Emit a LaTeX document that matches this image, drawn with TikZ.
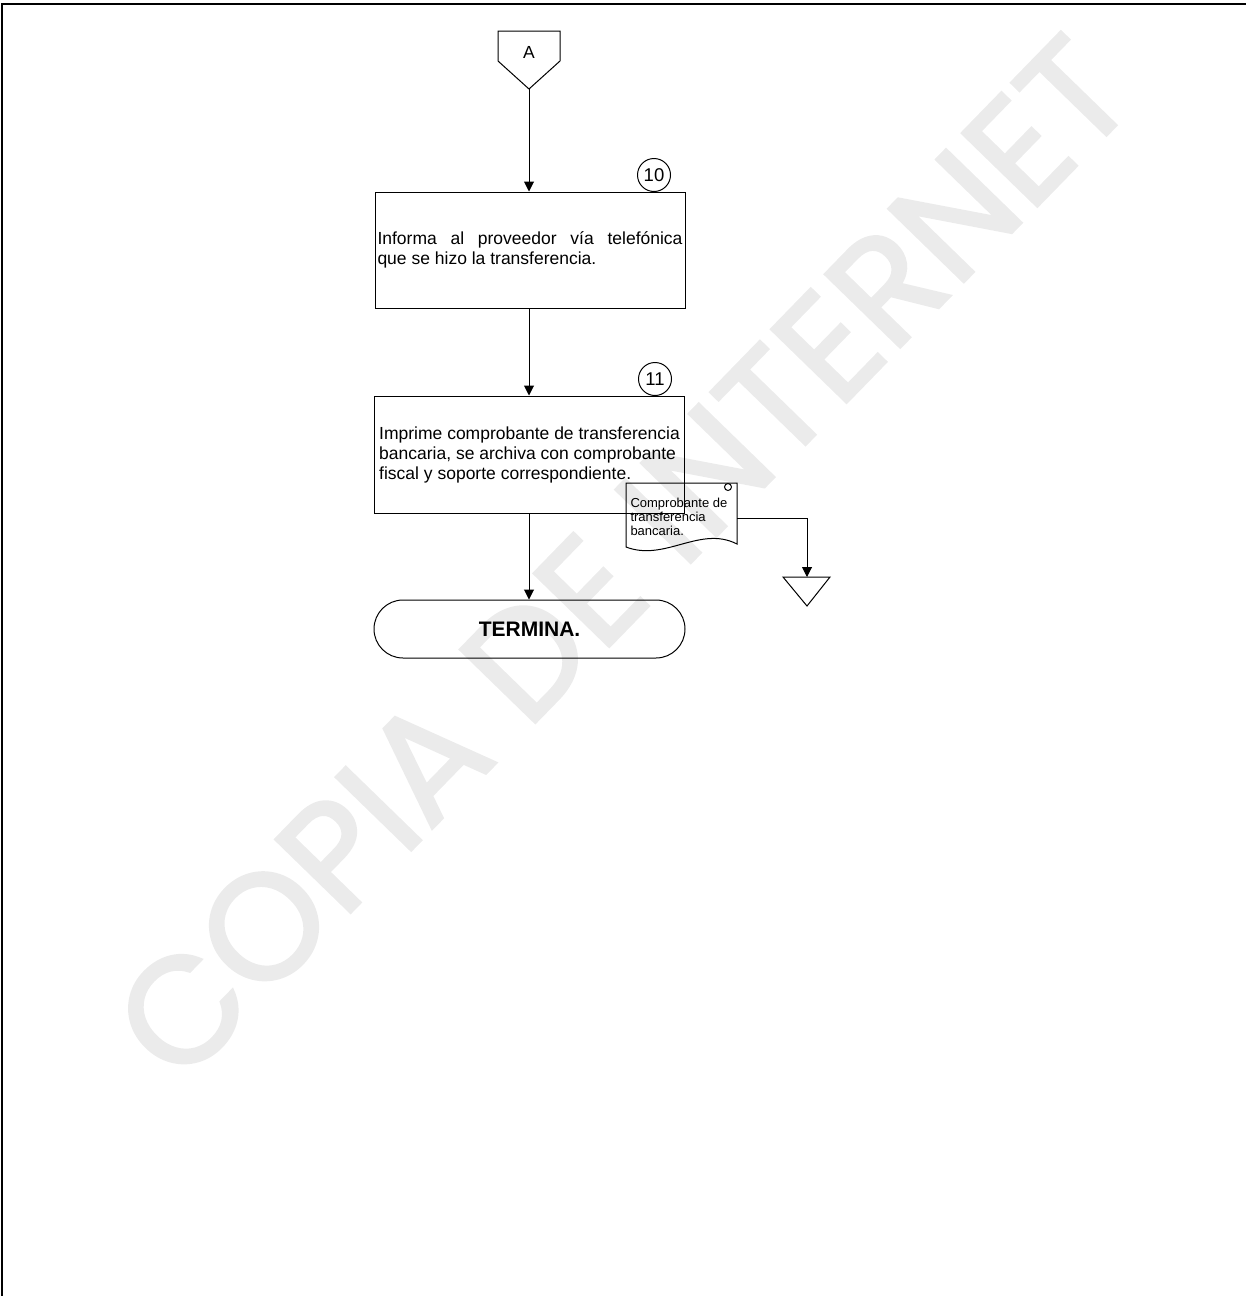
\documentclass[tikz,border=0pt]{standalone}
\usepackage{fontspec}
\setmainfont{Liberation Sans}
\newfontfamily\wmfont{Poppins}[FakeBold=2]
\usetikzlibrary{arrows.meta,shapes.misc}
\begin{document}
\begin{tikzpicture}[x=1pt,y=-1pt, line width=1pt,
  box/.style={draw, minimum width=310pt, minimum height=116pt, align=left, inner sep=0pt, font=\fontsize{17.5}{20}\selectfont},
  num/.style={draw, circle, minimum size=33pt, inner sep=0pt, font=\fontsize{18.5}{20}\selectfont},
  arr/.style={-{Triangle[length=10pt,width=10pt]}},
  wm/.style={rotate=45.8, text=gray!16, font=\wmfont\fontsize{150}{150}\selectfont},
  ]
\useasboundingbox (0,0) rectangle (1246,1296);
% watermark
\node[wm] (wmk) at (622,558) {COPIA DE INTERNET};
% frame
\draw[line width=1.6pt] (2,1296) -- (2,4) -- (1246,4);
% off-page connector A
\draw (498,31) -- (560,31) -- (560,61) -- (529,89) -- (498,61) -- cycle;
\node[font=\fontsize{17.5}{20}\selectfont] (A) at (529,52) {A};
\coordinate (Atip) at (529,89);
% boxes
\node[box] (b10) at (530,250) {\hbox to 305pt{Informa\hfil\ al\hfil\ proveedor\hfil\ vía\hfil\ telefónica}\\que se hizo la transferencia.};
\node[num] (n10) at (654,175) {10};
\node[box, minimum height=117pt] (b11) at (529.5,454.5) {Imprime comprobante de transferencia\\bancaria, se archiva con comprobante\\fiscal y soporte correspondiente.};
\node[num] (n11) at (655,379) {11};
\node[draw, rounded rectangle, minimum width=311pt, minimum height=58pt, inner sep=0pt, font=\bfseries\fontsize{21}{24}\selectfont] (fin) at (529.5,629) {TERMINA.};
% document
\draw (626,483) -- (737,483) -- (737,544) .. controls (700,525) and (665,562) .. (626,547) -- cycle;
\draw (728,487) circle[radius=3.5];
\node[anchor=north west, align=left, inner sep=0pt, font=\fontsize{13}{14}\selectfont] (doc) at (630,497.5) {Comprobante de\\transferencia\\bancaria.};
\coordinate (docR) at (737,518);
% archive triangle
\draw (783,577) -- (830,577) -- (807,606) -- cycle;
\coordinate (tri) at (807,577);
% connectors
\draw[arr] (Atip) -- (b10.north -| Atip);
\draw[arr] (b10.south -| Atip) -- (b11.north -| Atip);
\draw[arr] (b11.south -| Atip) -- (fin.north -| Atip);
\draw[arr] (docR) -| (tri);
\end{tikzpicture}
\end{document}
